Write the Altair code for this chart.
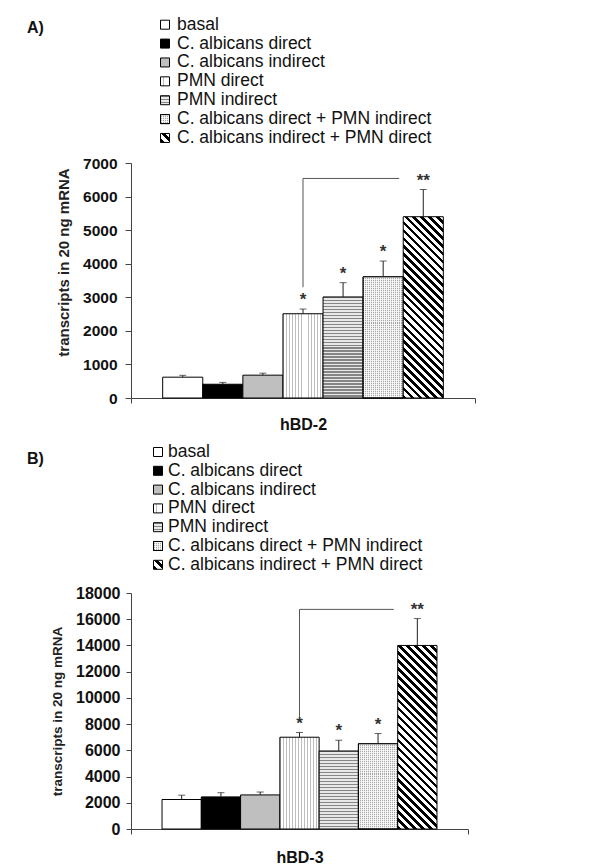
import altair as alt
import pandas as pd

# ---------------- data ----------------
series = [
    "basal",
    "C. albicans direct",
    "C. albicans indirect",
    "PMN direct",
    "PMN indirect",
    "C. albicans direct + PMN indirect",
    "C. albicans indirect + PMN direct",
]
hbd2_mean = [620, 410, 680, 2510, 3010, 3610, 5400]
hbd2_err = [55, 55, 60, 140, 425, 470, 810]
hbd3_mean = [2250, 2450, 2600, 7000, 5950, 6500, 14000]
hbd3_err = [330, 320, 220, 360, 820, 780, 2050]
stars = ["", "", "", "*", "*", "*", "**"]
bracket_hbd2 = [3300, 6540]
bracket_hbd3 = [8480, 16750]
genes = ["hBD-2", "hBD-3"]
panel_labels = ["A)", "B)"]
yaxis_title = "transcripts in 20 ng mRNA"

FONT = "Liberation Sans"
PAD_OUTER = 0.79


# ---------------- pattern helpers (styling only) ----------------
def stripe_stops(n, on_frac, on, off):
    n = max(1, int(round(n)))
    stops = []
    for k in range(n):
        a = round(k / n, 5)
        b = round((k + on_frac) / n, 5)
        c = round((k + 1) / n, 5)
        stops += [
            {"offset": a, "color": on},
            {"offset": b, "color": on},
            {"offset": b, "color": off},
            {"offset": c, "color": off},
        ]
    return stops


def fills_for(name, w, h):
    """Return list of fills (base, optional overlay) for a series."""
    if name == "basal":
        return ["white"]
    if name == "C. albicans direct":
        return ["black"]
    if name == "C. albicans indirect":
        return ["#bfbfbf"]
    if name == "PMN direct":
        return [{"gradient": "linear", "x1": 0, "y1": 0, "x2": 1, "y2": 0,
                 "stops": stripe_stops(w / 3.0, 0.3, "#bdbdbd", "#ffffff")}]
    if name == "PMN indirect":
        return [{"gradient": "linear", "x1": 0, "y1": 0, "x2": 0, "y2": 1,
                 "stops": stripe_stops(h / 3.0, 0.5, "#858585", "#e8e8e8")}]
    if name == "C. albicans direct + PMN indirect":
        base = {"gradient": "linear", "x1": 0, "y1": 0, "x2": 1, "y2": 0,
                "stops": stripe_stops(w / 2.0, 0.5, "#a8a8a8", "#f2f2f2")}
        over = {"gradient": "linear", "x1": 0, "y1": 0, "x2": 0, "y2": 1,
                "stops": stripe_stops(h / 2.0, 0.5, "rgba(255,255,255,0.75)",
                                      "rgba(255,255,255,0)")}
        return [base, over]
    # diagonal "\" stripes
    s = h * (w + h) / (w * w + h * h)
    return [{"gradient": "linear", "x1": 0, "y1": 1,
             "x2": round(s * w / h, 5), "y2": round(1 - s, 5),
             "stops": stripe_stops((w + h) / 8.0, 0.45, "#000000", "#ffffff")}]


# ---------------- legend panel ----------------
def legend_panel(label, W, H, lo, hi, sq_x, txt_x, label_x, label_y):
    ldf = pd.DataFrame({"series": series, "idx": list(range(len(series)))})
    ys = alt.Scale(domain=[lo, hi], reverse=True, nice=False, zero=False)
    Y = alt.Y("idx:Q", scale=ys, axis=None)
    base = alt.Chart(ldf)
    layers = []
    for s in series:
        for f in fills_for(s, 9, 9):
            layers.append(
                base.transform_filter(alt.datum.series == s)
                .mark_square(size=81, fill=f, stroke="black", strokeWidth=1,
                             opacity=1, filled=True)
                .encode(x=alt.value(sq_x), y=Y)
            )
    layers.append(
        base.mark_text(align="left", baseline="middle", font=FONT,
                       fontSize=17.5, color="#111")
        .encode(x=alt.value(txt_x), y=Y, text="series:N")
    )
    layers.append(
        alt.Chart(pd.DataFrame({"t": [label]}))
        .mark_text(align="left", baseline="middle", font=FONT, fontSize=16,
                   fontWeight="bold", color="#111")
        .encode(x=alt.value(label_x), y=alt.value(label_y), text="t:N")
    )
    return alt.layer(*layers).properties(width=W, height=H)


# ---------------- bar panel ----------------
def bar_panel(gene, means, errs, bracket, ymax, ystep, W, H,
              tick_font, tick_size, label_pad, title_font, title_pad,
              title_y, xlabel_pad):
    df = pd.DataFrame({
        "series": series,
        "mean": means,
        "top": [m + e for m, e in zip(means, errs)],
        "star": stars,
    })
    xs = alt.Scale(domain=series, paddingInner=0, paddingOuter=PAD_OUTER)
    ys = alt.Scale(domain=[0, ymax], nice=False, zero=True)
    axis_kw = dict(
        values=list(range(0, ymax + 1, ystep)), grid=False, format="d",
        tickSize=tick_size, labelPadding=label_pad, labelFont=FONT,
        labelFontWeight="bold", labelFontSize=tick_font, labelColor="#111",
        domainColor="#444", tickColor="#444", title=yaxis_title,
        titleFont=FONT, titleFontSize=title_font, titleFontWeight="bold",
        titleColor="#222", titlePadding=title_pad,
    )
    if title_y is not None:
        axis_kw["titleY"] = title_y
    yaxis = alt.Axis(**axis_kw)

    def X(field="series"):
        return alt.X(f"{field}:N", scale=xs, axis=None)

    def Y(field):
        return alt.Y(f"{field}:Q", scale=ys, axis=yaxis)

    step = W / (len(series) + 2 * PAD_OUTER)
    base = alt.Chart(df)
    layers = []
    for i, s in enumerate(series):
        h = means[i] / ymax * H
        for f in fills_for(s, step, h):
            layers.append(
                base.transform_filter(alt.datum.series == s)
                .mark_bar(fill=f, stroke="black", strokeWidth=1)
                .encode(x=X(), y=Y("mean"))
            )
    layers.append(
        base.mark_rule(color="#222", strokeWidth=1)
        .encode(x=X(), y=Y("mean"), y2="top")
    )
    layers.append(
        base.mark_tick(color="#222", thickness=1, size=7, orient="horizontal")
        .encode(x=X(), y=Y("top"))
    )
    layers.append(
        base.transform_filter(alt.datum.star != "")
        .mark_text(font=FONT, fontSize=17, fontWeight="bold", color="#333",
                   baseline="alphabetic", dy=-4)
        .encode(x=X(), y=Y("top"), text="star:N")
    )
    bdf = pd.DataFrame({
        "from": ["PMN direct"],
        "to": ["C. albicans direct + PMN indirect"],
        "b0": [bracket[0]],
        "b1": [bracket[1]],
    })
    layers.append(
        alt.Chart(bdf).mark_rule(color="#555", strokeWidth=1)
        .encode(x=X("from"), y=Y("b0"), y2="b1")
    )
    layers.append(
        alt.Chart(bdf).mark_rule(color="#555", strokeWidth=1)
        .encode(x=X("from"), x2=alt.X2("to:N", bandPosition=0.9), y=Y("b1"))
    )
    inner = alt.layer(*layers)

    gene_layer = (
        alt.Chart(pd.DataFrame({"gene": [gene]}))
        .mark_point(opacity=0)
        .encode(x=alt.X(
            "gene:N",
            scale=alt.Scale(paddingInner=0, paddingOuter=0),
            axis=alt.Axis(orient="bottom", tickBand="extent", tickSize=5,
                          labelFont=FONT, labelFontSize=16,
                          labelFontWeight="bold", labelColor="#111",
                          labelPadding=xlabel_pad, labelAngle=0,
                          domainColor="#444", tickColor="#444", title=None),
        ))
    )
    return (
        alt.layer(gene_layer, inner)
        .resolve_scale(x="independent")
        .properties(width=W, height=H)
    )


legend_a = legend_panel(panel_labels[0], 344, 147.5, -0.8845, 6.928,
                        34, 46, -104, 19.5)
bars_a = bar_panel(genes[0], hbd2_mean, hbd2_err, bracket_hbd2, 7000, 1000,
                   344, 235, 15.5, 6, 8, 15, 11, 99, 13)
legend_b = legend_panel(panel_labels[1], 344, 152.5, -1.064, 7.048,
                        27, 37, -104, 27)
bars_b = bar_panel(genes[1], hbd3_mean, hbd3_err, bracket_hbd3, 18000, 2000,
                   337, 236, 16, 5, 6, 13.5, 10.75, None, 15)

chart = (
    alt.vconcat(legend_a, bars_a, legend_b, bars_b, spacing=0)
    .properties(padding={"left": 19, "top": 0, "right": 0, "bottom": 0})
    .configure_view(stroke=None)
)

chart.save("out.html", embed_options={"renderer": "svg", "actions": False})
